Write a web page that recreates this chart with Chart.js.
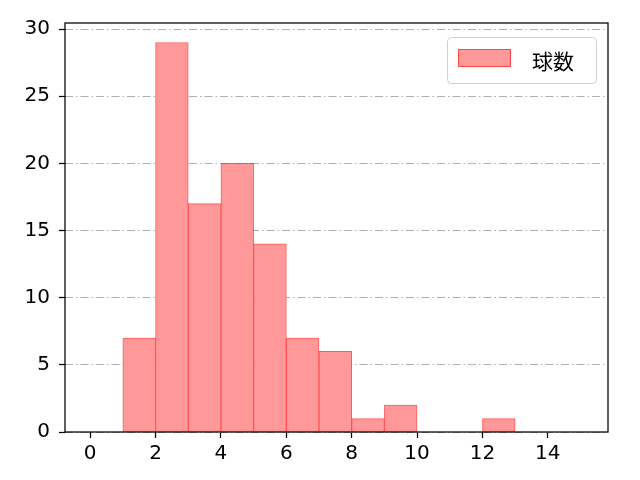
<!DOCTYPE html>
<html><head><meta charset="utf-8">
<script src="https://cdn.jsdelivr.net/npm/chart.js@4"></script>
<style>html,body{margin:0;padding:0;background:#fff}#wrap{width:640px;height:480px}</style>
</head><body><div id="wrap"><canvas id="c"></canvas></div>
<script>
const binCenters = [1.5, 2.5, 3.5, 4.5, 5.5, 6.5, 7.5, 8.5, 9.5, 10.5, 11.5, 12.5];
const counts = [7, 29, 17, 20, 14, 7, 6, 1, 2, 0, 0, 1];
const xTicks = [0, 2, 4, 6, 8, 10, 12, 14];
const yTicks = [0, 5, 10, 15, 20, 25, 30];
const seriesLabel = '球数';

const PAD = {left: 0, top: 23, right: 32, bottom: 0};
const frame = {
  id: 'frame',
  afterDatasetsDraw(chart) {
    const {ctx, chartArea: a} = chart;
    ctx.save();
    ctx.strokeStyle = '#000'; ctx.lineWidth = 1.25;
    ctx.strokeRect(a.left, a.top, a.right - a.left, a.bottom - a.top);
    // legend
    const ds = chart.data.datasets[0];
    const bx = a.right - 161, by = a.top + 14, bw = 149, bh = 46;
    ctx.fillStyle = 'rgba(255,255,255,0.8)';
    ctx.strokeStyle = '#d0d0d0'; ctx.lineWidth = 1;
    ctx.beginPath();
    if (ctx.roundRect) ctx.roundRect(bx + 0.5, by + 0.5, bw, bh, 4); else ctx.rect(bx + 0.5, by + 0.5, bw, bh);
    ctx.fill(); ctx.stroke();
    ctx.fillStyle = ds.backgroundColor; ctx.strokeStyle = ds.borderColor;
    ctx.fillRect(bx + 11, by + 12, 53, 18);
    ctx.strokeRect(bx + 11.5, by + 12.5, 52, 17);
    ctx.fillStyle = '#000';
    ctx.font = '21px "Noto Sans CJK JP", "DejaVu Sans", sans-serif';
    ctx.textBaseline = 'middle'; ctx.textAlign = 'left';
    ctx.fillText(ds.label, bx + 85, by + 24);
    ctx.restore();
  }
};

new Chart(document.getElementById('c'), {
  type: 'bar',
  data: {
    datasets: [{
      label: seriesLabel,
      data: binCenters.map((x, i) => ({x, y: counts[i]})),
      backgroundColor: 'rgba(255,153,153,1)',
      borderColor: 'rgba(255,50,50,0.8)',
      borderWidth: 1,
      barPercentage: 1,
      categoryPercentage: 1,
      borderSkipped: false
    }]
  },
  options: {
    responsive: true, maintainAspectRatio: false, animation: false,
    layout: {padding: PAD},
    plugins: {legend: {display: false}, tooltip: {enabled: false}},
    scales: {
      x: {
        type: 'linear', offset: false, min: -0.77, max: 15.84,
        afterBuildTicks: s => { s.ticks = xTicks.map(v => ({value: v})); },
        afterFit: s => { s.height = 480 - 432; },
        ticks: {color: '#000', font: {family: 'DejaVu Sans', size: 20}, padding: 4, maxRotation: 0, autoSkip: false},
        grid: {offset: false, drawOnChartArea: false, drawTicks: true, tickLength: 6, tickColor: '#000', tickWidth: 1.25},
        border: {display: false}
      },
      y: {
        type: 'linear', min: 0, max: 30.45,
        afterBuildTicks: s => { s.ticks = yTicks.map(v => ({value: v})); },
        afterFit: s => { s.width = 65; },
        ticks: {color: '#000', font: {family: 'DejaVu Sans', size: 20}, padding: 9},
        grid: {color: '#b0b0b0', lineWidth: 1, drawTicks: true, tickLength: 6, tickColor: '#000', tickWidth: 1.25, tickBorderDash: []},
        border: {display: false, dash: [8, 3, 1.5, 3]}
      }
    }
  },
  plugins: [frame]
});
</script></body></html>
